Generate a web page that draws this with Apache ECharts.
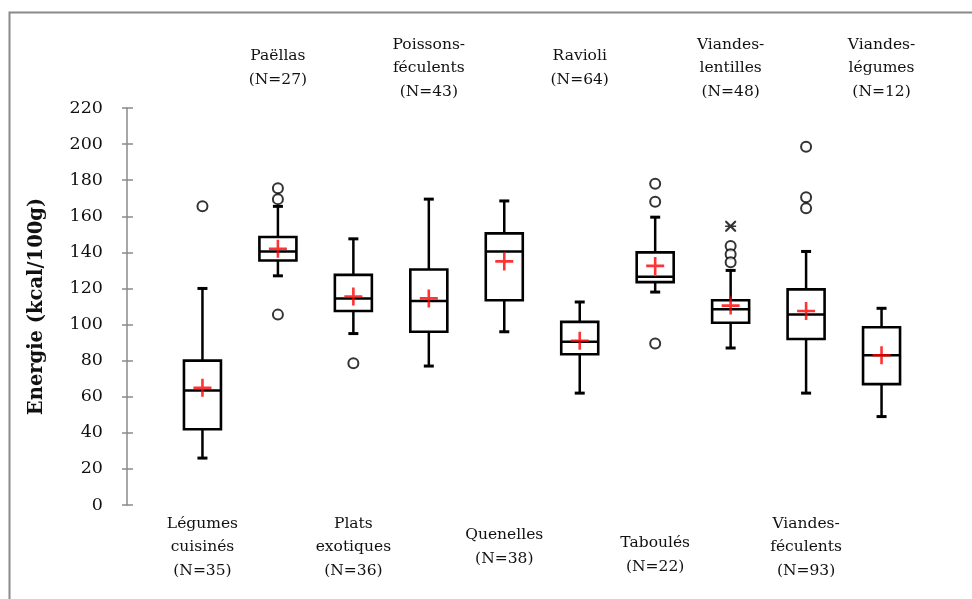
<!DOCTYPE html>
<html>
<head>
<meta charset="utf-8">
<script src="https://cdn.jsdelivr.net/npm/echarts@6/dist/echarts.min.js"></script>
<style>html,body{margin:0;padding:0;background:#fff;}#c{width:972px;height:599px;}</style>
</head>
<body>
<div id="c"></div>
<script>
const categories = ['Légumes\ncuisinés\n(N=35)', 'Paëllas\n(N=27)', 'Plats\nexotiques\n(N=36)', 'Poissons-\nféculents\n(N=43)', 'Quenelles\n(N=38)', 'Ravioli\n(N=64)', 'Taboulés\n(N=22)', 'Viandes-\nlentilles\n(N=48)', 'Viandes-\nféculents\n(N=93)', 'Viandes-\nlégumes\n(N=12)'];
const lowWhisker = [26, 127, 95, 77, 96, 62, 118, 87, 62, 49];
const q1 = [42, 135.5, 107.5, 96, 113.5, 83.5, 123.5, 101, 92, 67];
const median = [63.5, 140.5, 114.5, 113, 140.5, 90.5, 126.5, 108.5, 105.5, 83];
const q3 = [80, 148.5, 127.5, 130.5, 150.5, 101.5, 140, 113.5, 119.5, 98.5];
const highWhisker = [120, 165.5, 147.5, 169.5, 168.5, 112.5, 159.5, 130, 140.5, 109];
const means = [65, 142, 115.5, 114.5, 135, 91, 132.5, 110.5, 107.5, 83];
const outlierCat = [0, 1, 1, 1, 2, 6, 6, 6, 7, 7, 7, 8, 8, 8];
const outlierVal = [165.5, 175.5, 169.5, 105.5, 78.5, 178, 168, 89.5, 143.5, 139, 134.5, 198.5, 170.5, 164.5];
const extremeCat = [7];
const extremeVal = [154.5];
const yTicks = [0, 20, 40, 60, 80, 100, 120, 140, 160, 180, 200, 220];

const axisData = [''].concat(categories).concat(['']);
const boxData = categories.map((c, i) => [i + 1, lowWhisker[i], q1[i], median[i], q3[i], highWhisker[i]]);
const meanData = means.map((m, i) => [i + 1, m]);
const outData = outlierCat.map((c, i) => [c + 1, outlierVal[i]]);
const extData = extremeCat.map((c, i) => [c + 1, extremeVal[i]]);

const FONT = 'DejaVu Serif';
function renderBox(params, api) {
  const x = api.value(0);
  const lo = api.coord([x, api.value(1)]);
  const a = api.coord([x, api.value(2)]);
  const md = api.coord([x, api.value(3)]);
  const b = api.coord([x, api.value(4)]);
  const hi = api.coord([x, api.value(5)]);
  const cx = lo[0], hw = 18.5, cap = 5;
  const st = { stroke: '#000', lineWidth: 2.5, fill: null };
  return { type: 'group', children: [
    { type: 'line', shape: { x1: cx, y1: hi[1], x2: cx, y2: b[1] }, style: st },
    { type: 'line', shape: { x1: cx, y1: a[1], x2: cx, y2: lo[1] }, style: st },
    { type: 'line', shape: { x1: cx - cap, y1: hi[1], x2: cx + cap, y2: hi[1] }, style: { stroke: '#000', lineWidth: 3 } },
    { type: 'line', shape: { x1: cx - cap, y1: lo[1], x2: cx + cap, y2: lo[1] }, style: { stroke: '#000', lineWidth: 3 } },
    { type: 'rect', shape: { x: cx - hw, y: b[1], width: 2 * hw, height: a[1] - b[1] }, style: { stroke: '#000', lineWidth: 2.6, fill: '#fff' } },
    { type: 'line', shape: { x1: cx - hw, y1: md[1], x2: cx + hw, y2: md[1] }, style: st }
  ] };
}

function labelFmt(showEven) {
  return function (v, idx) {
    const i = idx - 1;
    if (i < 0 || i >= categories.length) return '';
    if ((i % 2 === 0) !== showEven) return '';
    if (v.indexOf('Taboul') === 0) return '{s| }\n' + v;
    return v;
  };
}
const labelStyle = { fontFamily: FONT, fontSize: 15.5, color: '#111', lineHeight: 23.5, interval: 0, verticalAlign: 'middle', align: 'center', rich: { s: { lineHeight: 16, fontSize: 4 } } };

const chart = echarts.init(document.getElementById('c'));
chart.setOption({
  animation: false,
  backgroundColor: '#fff',
  graphic: [{ type: 'rect', left: 7, top: 10, shape: { width: 1000, height: 700 }, style: { fill: null, stroke: '#8a8a8a', lineWidth: 2 }, silent: true }],
  grid: { left: 127, right: 15, top: 108, bottom: 94 },
  xAxis: [
    { type: 'category', data: axisData, boundaryGap: false, position: 'bottom', axisLine: { show: false }, axisTick: { show: false },
      axisLabel: Object.assign({ margin: 42, formatter: labelFmt(true) }, labelStyle) },
    { type: 'category', data: axisData, boundaryGap: false, position: 'top', axisLine: { show: false }, axisTick: { show: false },
      axisLabel: Object.assign({ margin: 40, formatter: labelFmt(false) }, labelStyle) }
  ],
  yAxis: [
    { type: 'value', min: yTicks[0], max: yTicks[yTicks.length - 1], interval: 20, splitLine: { show: false },
      axisLine: { show: true, lineStyle: { color: '#8a8a8a', width: 1.5 } },
      axisTick: { show: true, length: 5, lineStyle: { color: '#8a8a8a', width: 1.5 } },
      axisLabel: { margin: 24, fontFamily: FONT, fontSize: 17.5, color: '#111' },
      name: 'Energie (kcal/100g)', nameLocation: 'middle', nameGap: 80, nameRotate: 90,
      nameTextStyle: { fontFamily: FONT, fontSize: 19.5, fontWeight: 'bold', color: '#111' } },
    { type: 'value', min: yTicks[0], max: yTicks[yTicks.length - 1], interval: 20, position: 'left', splitLine: { show: false },
      axisLine: { show: false }, axisLabel: { show: false },
      axisTick: { show: true, inside: true, length: 6, lineStyle: { color: '#8a8a8a', width: 1.5 } } }
  ],
  series: [
    { type: 'custom', renderItem: renderBox, data: boxData, encode: { x: 0, y: [1, 2, 3, 4, 5] }, z: 2 },
    { type: 'scatter', data: outData, symbol: 'circle', symbolSize: 10, itemStyle: { color: '#fff', borderColor: '#000', borderWidth: 2 }, z: 3 },
    { type: 'scatter', data: extData, symbol: 'path://M0,0L2.5,0L9,6.5L15.5,0L18,0L18,2.5L11.5,9L18,15.5L18,18L15.5,18L9,11.5L2.5,18L0,18L0,15.5L6.5,9L0,2.5ZM0,7.7H18V10.3H0Z', symbolSize: 11, itemStyle: { color: '#000' }, z: 3 },
    { type: 'scatter', data: meanData, symbol: 'path://M7.7,0H10.3V18H7.7ZM0,7.7H18V10.3H0Z', symbolSize: 18, itemStyle: { color: '#ff0000' }, z: 4 }
  ]
});
</script>
</body>
</html>
